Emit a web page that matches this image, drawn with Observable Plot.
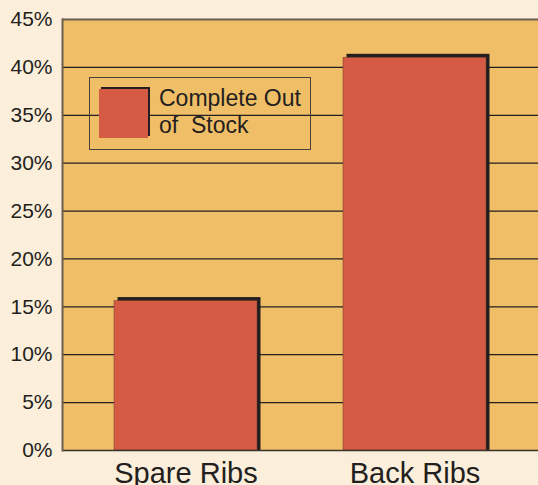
<!DOCTYPE html>
<html>
<head>
<meta charset="utf-8">
<script src="https://cdn.jsdelivr.net/npm/d3@7"></script>
<script src="https://cdn.jsdelivr.net/npm/@observablehq/plot@0.6"></script>
<style>
  html, body { margin: 0; padding: 0; background: #FBEEDB; }
  #wrap { position: relative; width: 538px; height: 485px; font-family: "Liberation Sans", Arial, sans-serif; color: #231F20; }
  #legend { position: absolute; left: 89px; top: 77px; width: 220px; height: 71px; border: 1.5px solid #4a4238; box-sizing: content-box; }
  #legend .sw-shadow { position: absolute; left: 11px; top: 9px; width: 49px; height: 49px; background: #231F20; }
  #legend .sw { position: absolute; left: 9px; top: 11px; width: 49px; height: 49px; background: #D65B45; }
  #legend .lbl { position: absolute; left: 69px; top: 7px; font-size: 23px; line-height: 27px; white-space: pre; }
</style>
</head>
<body>
<div id="wrap"></div>
<script>
const categories = ["Spare Ribs", "Back Ribs"];
const values = [15.6, 41];
const yTicks = [0, 5, 10, 15, 20, 25, 30, 35, 40, 45];
const seriesName = "Complete Out\nof  Stock";

const data = categories.map((c, i) => ({category: c, value: values[i]}));

const chart = Plot.plot({
  width: 538,
  height: 485,
  marginLeft: 62,
  marginRight: 0,
  marginTop: 19,
  marginBottom: 35,
  style: {background: "#FBEEDB", fontFamily: "Liberation Sans, Arial, sans-serif", color: "#231F20", overflow: "visible"},
  x: {domain: categories, paddingInner: 0.374, paddingOuter: 0.222, label: null},
  y: {domain: [0, 45], ticks: yTicks, label: null, tickFormat: d => d + "%"},
  marks: [
    Plot.frame({fill: "#F0BE66", stroke: null}),
    Plot.ruleY(yTicks, {stroke: "#231F20", strokeWidth: 1.2}),
    Plot.barY(data, {x: "category", y: "value", fill: "#231F20", dx: 3.5, dy: -3.5, insetBottom: -3.5}),
    Plot.barY(data, {x: "category", y: "value", fill: "#D65B45", stroke: "#6a3a2a", strokeWidth: 0.8, strokeOpacity: 0.6}),
    Plot.ruleY([45], {stroke: "#6b5d4d", strokeWidth: 2}),
    Plot.ruleY([0], {stroke: "#3a332c", strokeWidth: 1.5}),
    Plot.frame({anchor: "left", stroke: "#6b5d4d", strokeWidth: 2}),
    Plot.axisY({ticks: yTicks, tickSize: 0, tickPadding: 10, fontSize: 21, tickFormat: d => d + "%", label: null, fill: "#231F20"}),
    Plot.axisX({tickSize: 0, tickPadding: 12, fontSize: 29, label: null, fill: "#231F20"})
  ]
});

const wrap = document.getElementById("wrap");
wrap.appendChild(chart);
const legend = document.createElement("div");
legend.id = "legend";
legend.innerHTML = '<div class="sw-shadow"></div><div class="sw"></div><div class="lbl"></div>';
legend.querySelector(".lbl").textContent = seriesName;
wrap.appendChild(legend);
</script>
</body>
</html>
